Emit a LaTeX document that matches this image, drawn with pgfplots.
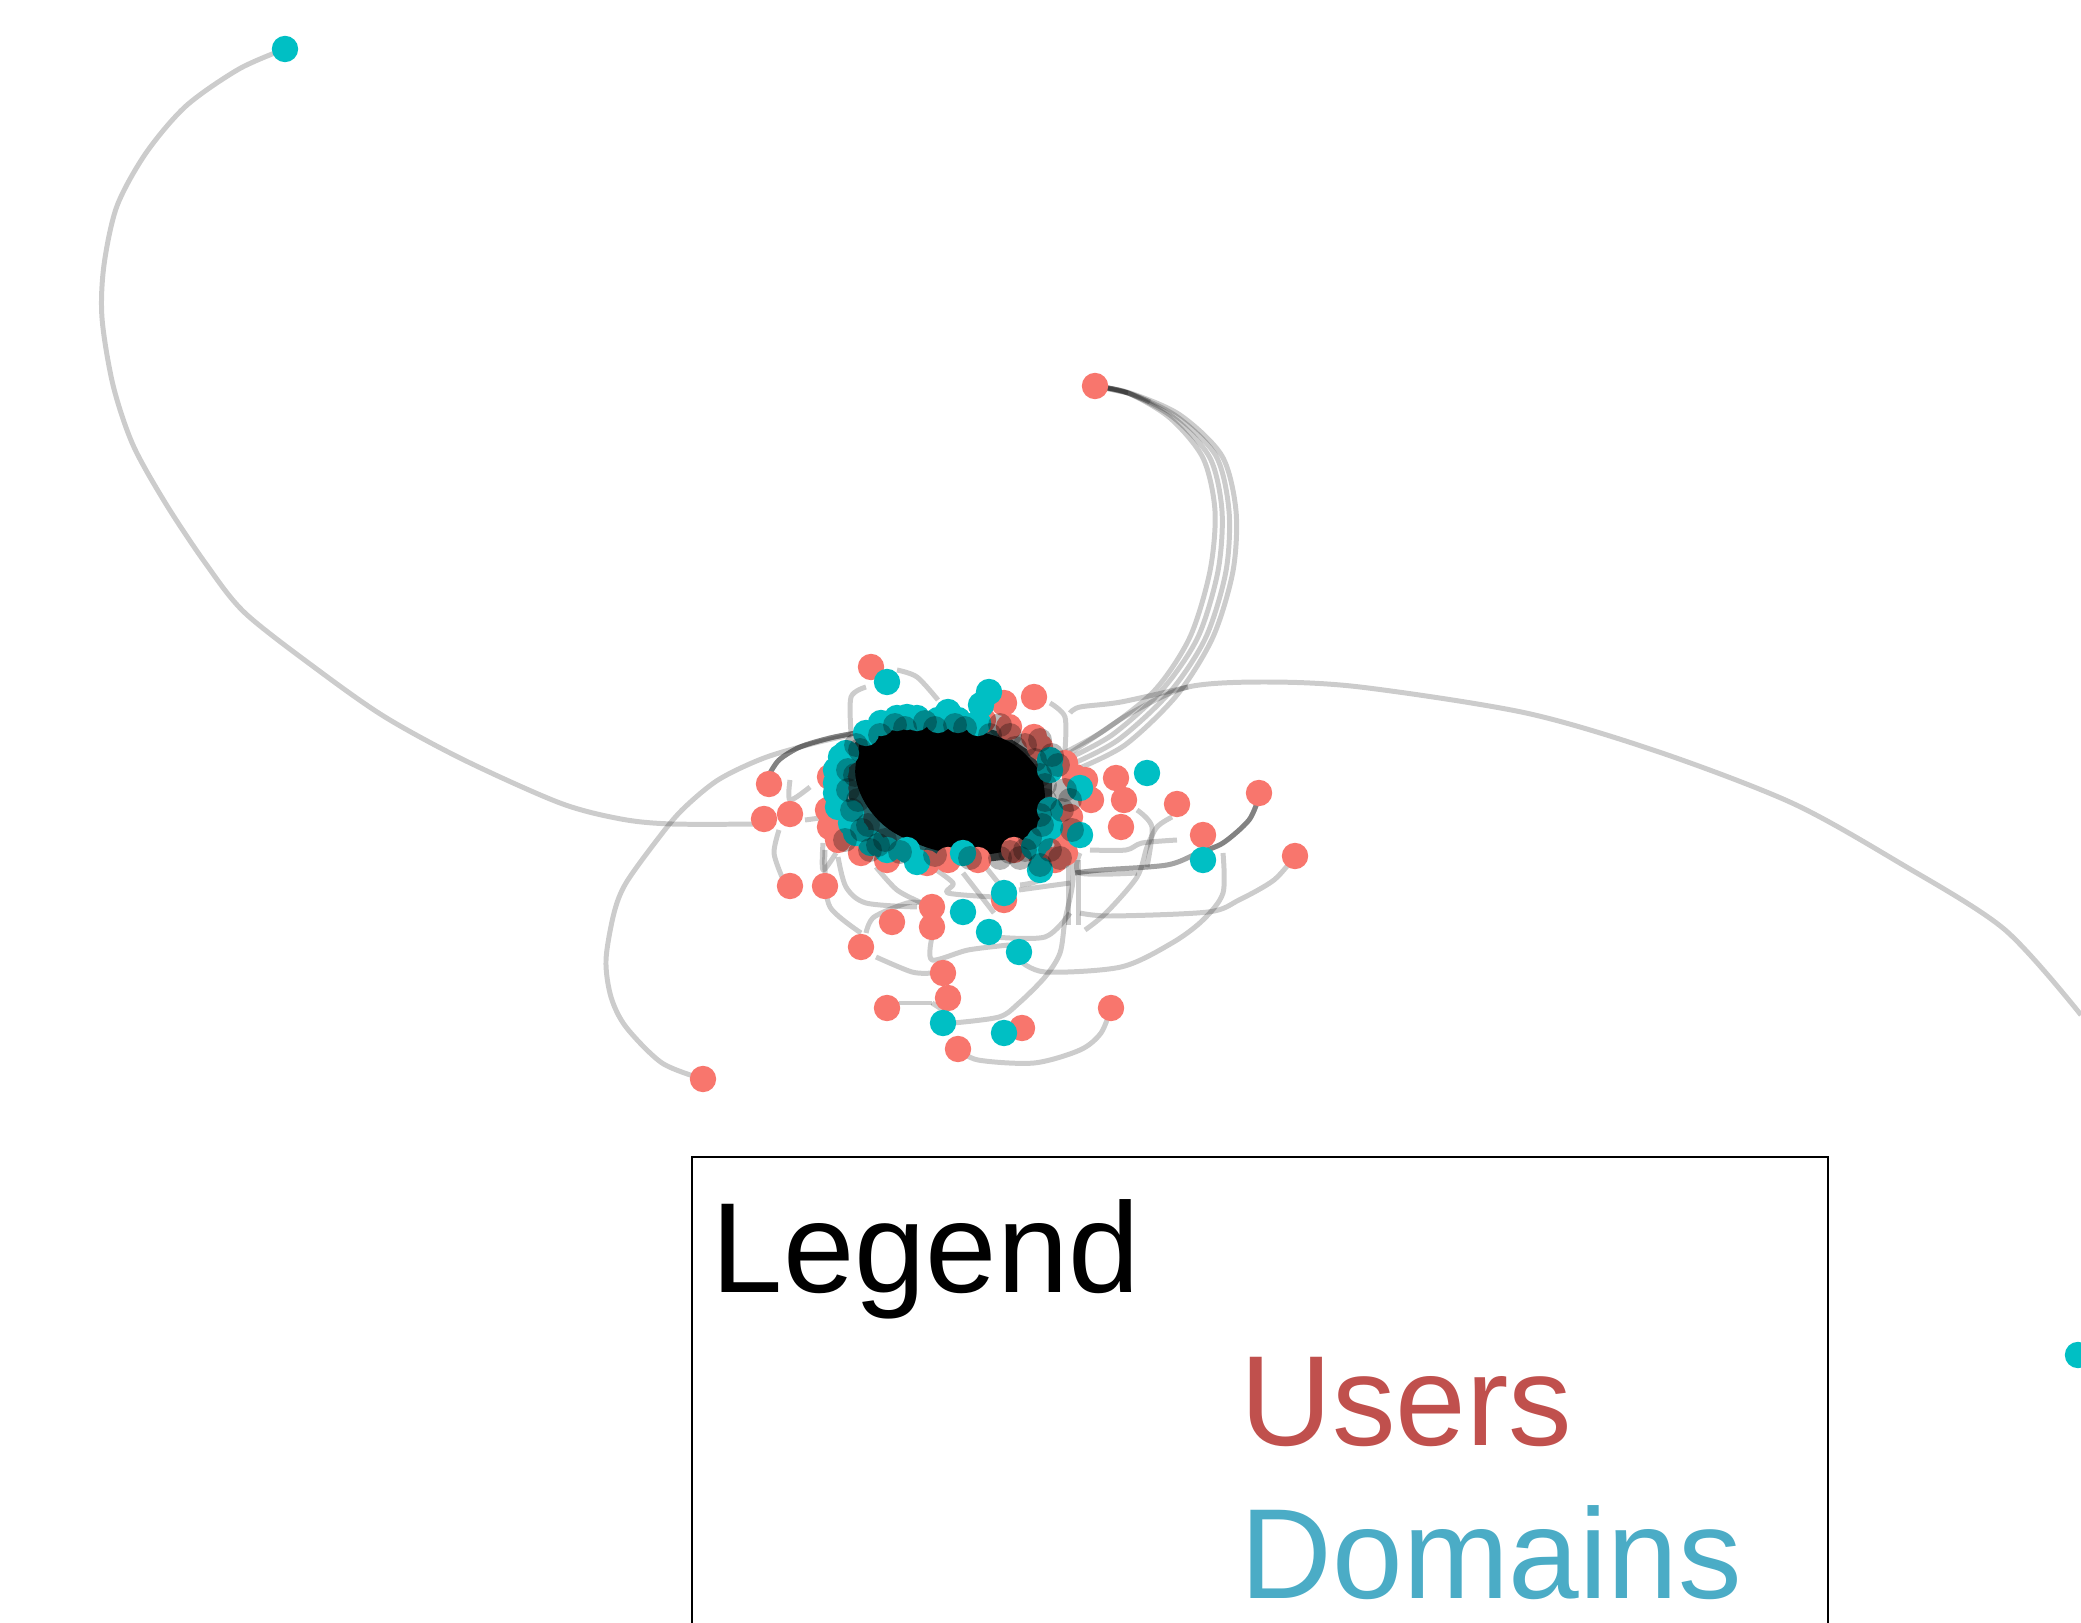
\documentclass[border=0pt]{standalone}
\usepackage{fontspec}
\setmainfont{Liberation Sans}
\usepackage{pgfplots}
\pgfplotsset{compat=1.18}
\definecolor{ured}{RGB}{248,118,109}
\definecolor{dteal}{RGB}{0,191,196}
\definecolor{txtred}{RGB}{192,80,77}
\definecolor{txtblue}{RGB}{75,172,198}
\begin{document}
\begin{tikzpicture}
\useasboundingbox (0,0) rectangle (20.81cm,16.23cm);
\begin{axis}[
  at={(0,0)}, anchor=south west,
  scale only axis, width=20.81cm, height=16.23cm,
  xmin=0, xmax=2081, ymin=0, ymax=1623, y dir=reverse,
  hide axis, clip=true,
  edge/.style={no marks, draw=black, draw opacity=0.2, line width=1.42pt, line join=round, smooth, tension=0.5},
  uu/.style={only marks, color=ured, mark=*, mark size=3.55pt, mark options={solid}},
  dd/.style={only marks, color=dteal, mark=*, mark size=3.55pt, mark options={solid}},
  dark/.style={only marks, color=black, mark=*, mark size=3.4pt, mark options={solid, draw opacity=0, fill opacity=0.28}},
]
% user nodes
\addplot[uu] coordinates {(871,667)(1034,697)(1004,703)(769,784)(764,819)(790,814)(1116,778)(1124,800)(1121,827)(1177,804)(1259,793)(1203,835)(1295,856)(790,886)(825,886)(932,907)(892,922)(932,927)(861,947)(943,973)(948,998)(887,1008)(1111,1008)(1022,1028)(958,1049)(703,1079)(1004,900)(1095,386)
(830,777)(828,810)(830,827)(838,840)(861,853)(887,860)(948,860)(1014,850)(1040,853)(1065,853)(1065,837)(1070,817)(1065,763)(1085,780)(1091,800)(1034,737)(1009,727)(983,720)(1040,747)(1075,777)(1055,860)(927,863)(978,860)};
% domain nodes
\addplot[dd] coordinates {(887,682)(989,692)(981,705)(948,712)(907,717)(1147,773)(1080,788)(1080,835)(917,862)(1203,860)(1040,870)(1004,893)(963,912)(989,932)(1019,952)(943,1023)(1004,1033)(285,49)(2078,1355)
(841,757)(836,770)(836,783)(836,793)(838,807)(851,823)(856,833)(871,843)(887,850)(866,733)(881,723)(897,718)(917,718)(938,720)(958,720)(978,723)(1050,760)(1050,770)(1050,810)(1050,827)(1040,840)(1034,847)(963,853)(907,850)(846,753)(851,813)};
% dense rim
\addplot[dark] coordinates {(856,745)(848,770)(848,790)(852,810)(862,830)(878,845)(900,852)(880,735)(905,728)(935,728)(965,728)(990,735)(1015,748)(1045,785)(1045,800)(1042,825)(1025,850)(1000,858)(970,858)(935,855)(1058,765)(1062,810)(860,750)(855,775)(858,800)(868,825)(885,840)(1035,760)(1040,775)(1040,815)(1030,838)(1010,852)(895,725)(925,722)(955,725)(1020,858)(1050,850)(1065,790)(1010,735)(1025,745)(845,840)(870,850)(1040,740)(1052,755)(1070,800)(1072,830)(1060,858)(1040,865)(1000,725)};
\addplot[fill={rgb,255:red,0;green,70;blue,75}, fill opacity=0.85, draw=none] coordinates {(1000,732)(965,722)(917,720)(866,728)(846,755)(846,785)(852,810)(868,832)(890,848)(920,858)(950,860)(950,790)(1000,732)};
\addplot[fill={rgb,255:red,40;green,45;blue,45}, fill opacity=0.85, draw=none] coordinates {(1000,732)(1028,750)(1052,780)(1052,810)(1045,835)(1020,858)(985,862)(950,860)(950,790)(1000,732)};
% long edges
\addplot[edge] coordinates {(285,49)(239,69)(186,106)(146,153)(117,206)(104,265)(102,318)(113,385)(133,445)(166,504)(206,564)(245,613)(318,670)(385,717)(464,760)(560,803)(621,819)(672,824)(764,824)};
\addplot[edge] coordinates {(1070,753)(1090,740)(1131,713)(1188,687)(1264,682)(1360,687)(1526,713)(1659,752)(1792,803)(1898,862)(2004,929)(2081,1015)};
\addplot[edge] coordinates {(1095,386)(1128,393)(1170,418)(1203,458)(1215,511)(1210,571)(1190,637)(1155,690)(1105,730)(1060,755)};
\addplot[edge] coordinates {(1095,386)(1128,393)(1174,418)(1210,458)(1222,511)(1218,571)(1198,637)(1162,690)(1112,735)(1065,760)};
\addplot[edge] coordinates {(1095,386)(1128,393)(1176,416)(1216,456)(1229,511)(1226,571)(1206,637)(1170,692)(1118,740)(1070,765)};
\addplot[edge] coordinates {(1095,386)(1130,393)(1180,415)(1222,456)(1236,511)(1233,571)(1213,637)(1177,695)(1125,745)(1075,770)};
\addplot[edge] coordinates {(703,1079)(662,1063)(626,1027)(611,997)(606,960)(614,913)(626,883)(657,840)(682,810)(718,780)(764,758)(815,743)(851,735)};
% dark bundles
\addplot[edge] coordinates {(769,775)(779,760)(800,747)(830,738)(856,733)};
\addplot[edge] coordinates {(769,775)(779,760)(800,747)(830,738)(856,733)};
\addplot[edge] coordinates {(769,775)(779,760)(800,747)(830,738)(856,733)};
\addplot[edge] coordinates {(1259,797)(1249,820)(1223,843)(1198,853)(1167,865)(1101,870)(1075,873)};
\addplot[edge] coordinates {(1259,797)(1249,820)(1223,843)(1198,853)(1167,865)(1101,870)(1075,873)};
\addplot[edge] coordinates {(1259,797)(1249,820)(1223,843)(1198,853)};
\addplot[edge] coordinates {(1095,386)(1128,393)(1150,402)};
\addplot[edge] coordinates {(1095,386)(1128,393)};
% other edges
\addplot[edge] coordinates {(1295,856)(1274,880)(1239,900)(1208,912)(1111,916)(1080,913)};
\addplot[edge] coordinates {(1223,853)(1223,893)(1203,920)(1172,943)(1121,967)(1045,972)(1019,960)};
\addplot[edge] coordinates {(1111,1008)(1101,1033)(1080,1050)(1034,1063)(978,1060)(958,1049)};
\addplot[edge] coordinates {(953,1023)(999,1017)(1019,1003)(1045,977)(1060,953)(1065,920)(1073,880)(1073,820)};
\addplot[edge] coordinates {(1068,860)(1068,925)};
\addplot[edge] coordinates {(1078,860)(1078,925)};
\addplot[edge] coordinates {(932,1003)(899,1003)};
\addplot[edge] coordinates {(943,1010)(932,1003)};
\addplot[edge] coordinates {(932,937)(932,960)(968,950)(1009,945)};
\addplot[edge] coordinates {(861,933)(830,907)(825,870)(825,850)};
\addplot[edge] coordinates {(876,957)(912,972)(932,973)};
\addplot[edge] coordinates {(866,933)(874,917)(907,903)(922,903)};
\addplot[edge] coordinates {(838,857)(846,887)(866,903)(917,907)};
\addplot[edge] coordinates {(876,867)(897,890)(922,903)};
\addplot[edge] coordinates {(932,867)(953,883)(948,893)(994,897)};
\addplot[edge] coordinates {(994,913)(963,873)};
\addplot[edge] coordinates {(1019,890)(1070,883)};
\addplot[edge] coordinates {(994,937)(1045,937)(1070,913)};
\addplot[edge] coordinates {(1085,930)(1106,913)(1137,877)(1147,847)(1157,827)(1172,817)};
\addplot[edge] coordinates {(1090,850)(1126,850)(1142,843)(1177,840)};
\addplot[edge] coordinates {(1137,810)(1152,827)(1147,867)};
\addplot[edge] coordinates {(851,733)(851,697)(866,687)};
\addplot[edge] coordinates {(897,670)(917,677)(938,700)};
\addplot[edge] coordinates {(1050,703)(1065,717)(1065,750)};
\addplot[edge] coordinates {(1070,713)(1080,707)(1121,702)(1188,687)};
\addplot[edge] coordinates {(779,830)(774,853)(782,877)};
\addplot[edge] coordinates {(790,780)(790,800)(810,787)};
\addplot[edge] coordinates {(805,820)(820,818)};
\addplot[edge] coordinates {(823,843)(823,870)(836,853)};
\addplot[edge] coordinates {(1080,853)(1080,873)(1137,873)};
\addplot[edge] coordinates {(1060,860)(1040,880)(1020,885)};
\addplot[edge] coordinates {(980,860)(1000,885)};
% dense core
\addplot[fill=black, draw=black, smooth, tension=0.6] coordinates {(860,745)(885,732)(917,727)(960,729)(999,738)(1022,752)(1040,775)(1044,803)(1036,828)(1014,847)(983,854)(948,852)(917,843)(887,827)(866,803)(856,775)(860,745)};
% legend box
\addplot[black, line width=0.6pt, no marks, sharp plot] coordinates {(692,1680)(692,1157)(1828,1157)(1828,1680)};
\node[anchor=base west, inner sep=0pt, xscale=1.0, font=\fontsize{36.5pt}{40pt}\selectfont, text=black] at (axis cs:711,1292) {Legend};
\node[anchor=base west, inner sep=0pt, xscale=0.99, font=\fontsize{36.5pt}{40pt}\selectfont, text=txtred] at (axis cs:1240,1445) {Users};
\node[anchor=base west, inner sep=0pt, xscale=0.99, font=\fontsize{36.5pt}{40pt}\selectfont, text=txtblue] at (axis cs:1240,1598) {Domains};
\end{axis}
\end{tikzpicture}
\end{document}
